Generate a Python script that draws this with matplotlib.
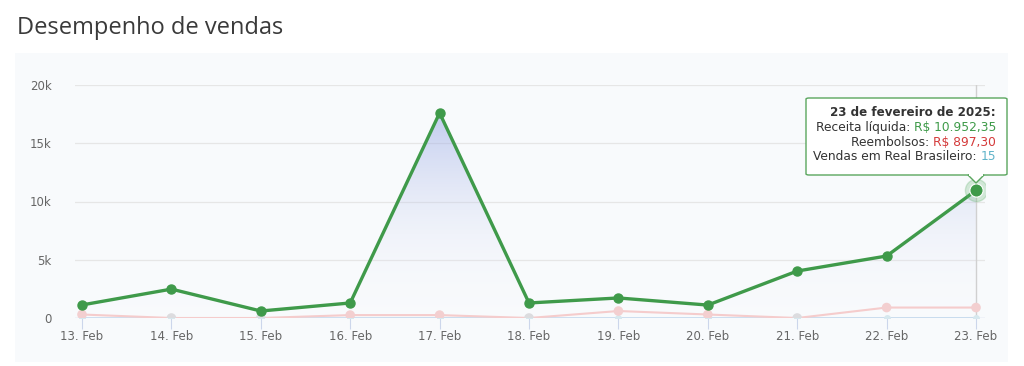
import numpy as np
import matplotlib
matplotlib.use('Agg')
import matplotlib.pyplot as plt
from matplotlib.patches import FancyBboxPatch, Polygon, Rectangle

# dados do grafico
dias = ['13. Feb', '14. Feb', '15. Feb', '16. Feb', '17. Feb', '18. Feb',
        '19. Feb', '20. Feb', '21. Feb', '22. Feb', '23. Feb']
receita = [1120, 2480, 600, 1290, 17600, 1290, 1720, 1110, 4030, 5320, 10952.35]
reembolsos = [300, 0, 0, 250, 250, 0, 600, 300, 0, 897.30, 897.30]
vendas = [3, 2, 1, 3, 12, 2, 4, 3, 6, 9, 15]
yticks = [0, 5000, 10000, 15000, 20000]
ylabels = ['0', '5k', '10k', '15k', '20k']

W, H = 1024, 366
fig = plt.figure(figsize=(W / 100, H / 100), dpi=100)
fig.patch.set_facecolor('white')

def fx(px):
    return px / W

def fy(py):
    return 1 - py / H

# fundo do painel
fig.patches.append(Rectangle((fx(15), fy(362)), fx(993), 309 / H,
                             transform=fig.transFigure, facecolor='#f8fafc',
                             edgecolor='none', zorder=-5))

fig.text(fx(17), fy(28), 'Desempenho de vendas', fontsize=17, color='#3a3a3a',
         family='Open Sans', va='center', ha='left')

ax = fig.add_axes([fx(75), fy(318), fx(910), (318 - 85) / H])
ax.set_facecolor('none')
ax.set_zorder(1)
x = np.arange(len(dias))

for t in yticks[1:]:
    ax.axhline(t, color='#e6e6e6', lw=0.9, zorder=1)
ax.axhline(0, color='#ccd6eb', lw=1, zorder=2)

# preenchimento em gradiente sob a receita
grad = np.linspace(0, 1, 256).reshape(-1, 1)
cmap = matplotlib.colors.LinearSegmentedColormap.from_list(
    'g', [(1, 1, 1, 0), (0.55, 0.62, 0.88, 0.5)])
im = ax.imshow(grad, extent=[x[0], x[-1], 0, max(receita)], origin='lower',
               aspect='auto', cmap=cmap, zorder=2)
poly = Polygon(list(zip(x, receita)) + [(x[-1], 0), (x[0], 0)], closed=True,
               facecolor='none', edgecolor='none')
ax.add_patch(poly)
im.set_clip_path(poly)
ax.set_xlim(-7 / 89.4, 10 + 9 / 89.4)
ax.set_ylim(0, 20000)

# linha vertical do cursor
ax.axvline(x[-1], color='#d0d0d0', lw=1, zorder=2)

ax.plot(x, vendas, color='#c9dcee', lw=1.2, marker='o', ms=5, mfc='#d6e8ee',
        mec='none', zorder=3)
ax.plot(x, reembolsos, color='#f5cccc', lw=1.5, zorder=3)
cores = ['#f3cfd0' if v > 0 else '#dcdcdf' for v in reembolsos]
ax.scatter(x, reembolsos, s=48, c=cores, edgecolors='none', zorder=4)

ax.plot(x, receita, color='#3f9a4a', lw=2.4, marker='o', ms=6.5, zorder=5)
ax.plot(x[-1], receita[-1], 'o', ms=16, color='#5fb06a', alpha=0.25, zorder=5)
ax.plot(x[-1], receita[-1], 'o', ms=9.5, color='#3f9a4a', mec='white', mew=0.8,
        zorder=6)

ax.set_xticks(x)
ax.set_xticklabels(dias)
ax.set_yticks(yticks)
ax.set_yticklabels(ylabels)
ax.tick_params(axis='x', length=8, color='#ccd6eb', labelsize=8.5,
               labelcolor='#666666', pad=1)
ax.tick_params(axis='y', length=0, labelsize=8.5, labelcolor='#666666', pad=17)
for s in ax.spines.values():
    s.set_visible(False)

# tooltip
box = FancyBboxPatch((fx(806), fy(175)), fx(201), 77 / H,
                     boxstyle='round,pad=0,rounding_size=0.003',
                     transform=fig.transFigure, facecolor='white',
                     edgecolor='#5aa65e', lw=1, zorder=10)
fig.patches.append(box)
fig.patches.append(Polygon([(fx(968), fy(175)), (fx(984), fy(175)),
                            (fx(976), fy(183))], closed=True,
                           transform=fig.transFigure, facecolor='white',
                           edgecolor='#5aa65e', lw=1, zorder=10))
fig.patches.append(Rectangle((fx(969), fy(176.5)), fx(14), 2.5 / H,
                             transform=fig.transFigure, facecolor='white',
                             edgecolor='none', zorder=11))

tx = fx(996)
fig.text(tx, fy(113), '23 de fevereiro de 2025:', ha='right', va='center',
         fontsize=8.6, weight='bold', color='#333333', zorder=12)
linhas = [('Receita líquida: ', 'R$ 10.952,35', '#3d9a48', 128),
          ('Reembolsos: ', 'R$ 897,30', '#d43a3a', 142.5),
          ('Vendas em Real Brasileiro: ', '15', '#5fb3c9', 157)]
fig.canvas.draw()
rend = fig.canvas.get_renderer()
for rot, val, cor, py in linhas:
    t2 = fig.text(tx, fy(py), val, ha='right', va='center', fontsize=8.8,
                  color=cor, zorder=12)
    bb = t2.get_window_extent(rend)
    fig.text(bb.x0 / W, fy(py), rot, ha='right', va='center', fontsize=8.8,
             color='#333333', zorder=12)

fig.savefig('out.png', dpi=100)
